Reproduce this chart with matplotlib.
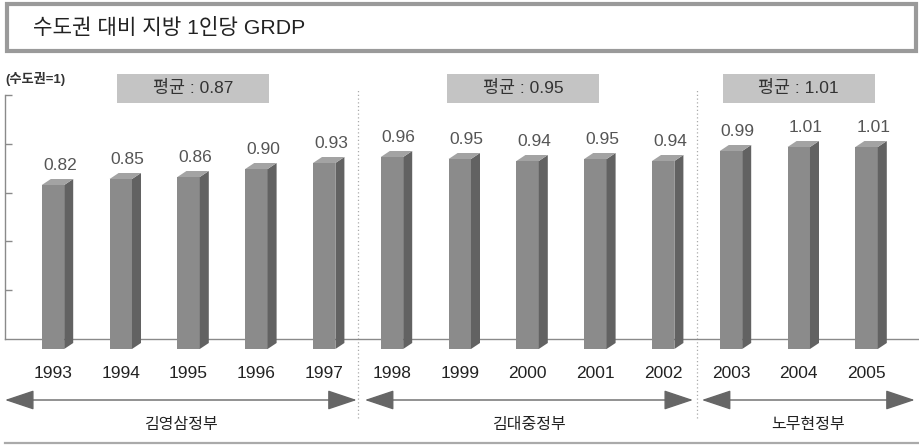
import matplotlib
matplotlib.use("Agg")
import matplotlib.pyplot as plt
from matplotlib.patches import Rectangle, Polygon
from matplotlib.lines import Line2D

# latin glyphs from Liberation Sans, hangul falls through to Noto CJK
plt.rcParams['font.family'] = ['Liberation Sans', 'Noto Sans CJK KR', 'DejaVu Sans']

years = ['1993', '1994', '1995', '1996', '1997', '1998', '1999',
         '2000', '2001', '2002', '2003', '2004', '2005']
ratio = [0.82, 0.85, 0.86, 0.90, 0.93, 0.96, 0.95, 0.94, 0.95, 0.94, 0.99, 1.01, 1.01]
govts = ['김영삼정부', '김대중정부', '노무현정부']
govt_span = [(0, 4), (5, 9), (10, 12)]
govt_avg = ['0.87', '0.95', '1.01']

W, H = 919, 445
fig = plt.figure(figsize=(W / 100, H / 100), dpi=100)
ax = fig.add_axes([0, 0, 1, 1])

# one axes over the whole canvas: x in bar slots, y in ratio units
ax.set_xlim(-0.7817, 12.773)
ax.set_ylim(-0.48, 1.745)
ax.set_facecolor('white')

def fx(px):
    return px / W

def fy(py):
    return 1 - py / H

# 3d bar settings
bw = 0.33        # front face width
ddx = 0.133      # depth to the right
ddy = 0.03       # depth upward
front_c, side_c, top_c = '#8b8b8b', '#626262', '#a3a3a3'

# floor line and y axis
floor = 0.05
ax.spines['top'].set_visible(False)
ax.spines['right'].set_visible(False)
ax.spines['left'].set_position(('data', -0.708))
ax.spines['left'].set_bounds(floor, 1.27)
ax.spines['bottom'].set_position(('data', floor))
ax.spines['bottom'].set_bounds(-0.708, 12.76)
for s in ('left', 'bottom'):
    ax.spines[s].set_color('#8a8a8a')
    ax.spines[s].set_linewidth(1.0)
    ax.spines[s].set_zorder(1)
ax.set_yticks([floor + k * 0.244 for k in range(1, 6)])
ax.set_yticklabels([])
ax.tick_params(axis='y', direction='in', length=5, color='#8a8a8a', width=1.0)
ax.set_xticks([])

for i, v in enumerate(ratio):
    x0 = i - bw / 2
    x1 = i + bw / 2
    ax.add_patch(Rectangle((x0, 0), bw, v, facecolor=front_c, edgecolor='none', zorder=3))
    ax.add_patch(Polygon([(x1, 0), (x1 + ddx, ddy), (x1 + ddx, v + ddy), (x1, v)],
                         closed=True, facecolor=side_c, edgecolor='none', zorder=3))
    ax.add_patch(Polygon([(x0, v), (x0 + ddx, v + ddy), (x1 + ddx, v + ddy), (x1, v)],
                         closed=True, facecolor=top_c, edgecolor='none', zorder=3))
    ax.text(i + 0.1, v + 0.075, f'{v:.2f}', ha='center', va='baseline',
            fontsize=12.5, color='#555555', zorder=4)
    ax.text(i, -0.145, years[i], ha='center', va='baseline', fontsize=12.5,
            color='#222222')

# separators between administrations
for a, b in zip(govt_span[:-1], govt_span[1:]):
    xs = (a[1] + b[0]) / 2
    ax.plot([xs, xs], [-0.345, 1.305], linestyle=(0, (1, 2)), color='#aaaaaa',
            linewidth=0.9, zorder=1)

# administration arrows and names
arrow_x = [(-0.708, 4.48), (4.6, 9.44), (9.57, 12.71)]
for (xa, xb), name in zip(arrow_x, govts):
    ax.annotate('', xy=(xb, -0.255), xytext=(xa, -0.255),
                arrowprops=dict(arrowstyle='<|-|>,head_length=1.85,head_width=0.62',
                                color='#666666', lw=1.0, shrinkA=0, shrinkB=0,
                                mutation_scale=10))
    ax.text((xa + xb) / 2, -0.38, name, ha='center', va='center', fontsize=11.5,
            color='#222222')

# average boxes
box_cx = [2.065, 6.93, 11.0]
for cx, avg in zip(box_cx, govt_avg):
    ax.add_patch(Rectangle((cx - 1.12, 1.23), 2.24, 0.145, facecolor='#c4c4c4',
                           edgecolor='none', zorder=2))
    ax.text(cx, 1.3025, f'평균 : {avg}', ha='center', va='center', fontsize=12.5,
            color='#333333', zorder=3)

# unit note
fig.text(fx(5), fy(79), '(수도권=1)', ha='left', va='center', fontsize=9.5,
         fontweight='bold', color='#333333')

# title frame
fig.patches.append(Rectangle((fx(7), fy(51)), fx(909), 47 / H, transform=fig.transFigure,
                             facecolor='white', edgecolor='#9a9a9a', linewidth=3))
fig.text(fx(33), fy(28), '수도권 대비 지방 1인당 GRDP', ha='left', va='center',
         fontsize=15.3, color='#222222')

# bottom rule
fig.lines.append(Line2D([fx(5), fx(919)], [fy(443), fy(443)], transform=fig.transFigure,
                        color='#aaaaaa', linewidth=1.6))

fig.savefig('out.png', dpi=100)
